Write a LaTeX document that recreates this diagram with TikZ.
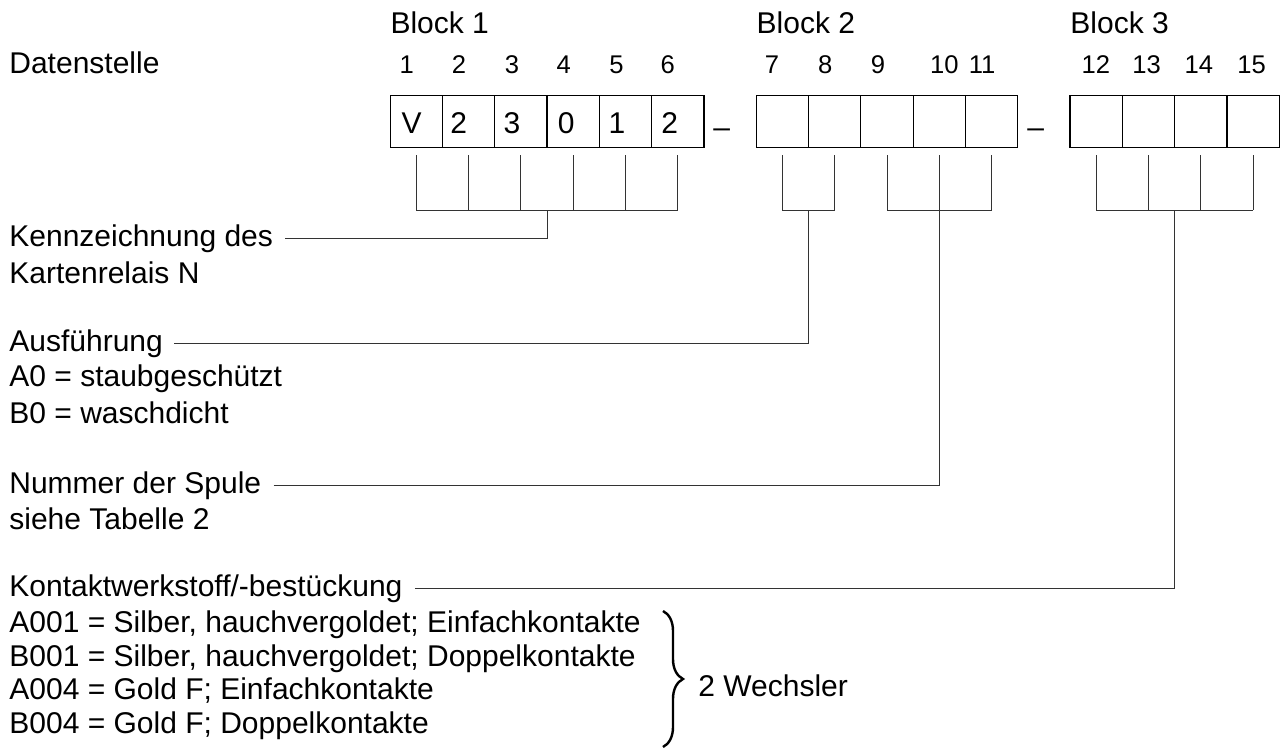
\documentclass[tikz,border=0pt]{standalone}
\usepackage{fontspec}
\setmainfont{Liberation Sans}
\usetikzlibrary{positioning,decorations.pathreplacing}

\tikzset{
  feld/.style={draw, line width=0.6pt, minimum size=26.15pt, inner sep=0pt, outer sep=0pt},
  nr/.style={font=\fontsize{12.8}{15}\selectfont, anchor=base, inner sep=0pt},
  inhalt/.style={font=\fontsize{15}{18}\selectfont, anchor=base, inner sep=0pt},
  txt/.style={font=\fontsize{15}{18.3}\selectfont, anchor=base west, inner sep=0pt, align=left},
  verb/.style={line width=0.5pt, black!80},
}

\begin{document}
\begin{tikzpicture}[x=0.5pt,y=-0.5pt]
\useasboundingbox (0,0) rectangle (1282,753);

% Datenstellen
\node[feld] (b1) at (416.3,121.7) {};
\foreach \i/\j/\d in {1/2/0pt,2/3/0pt,3/4/0pt,4/5/0pt,5/6/0pt,6/7/26.15pt,7/8/0pt,8/9/0pt,9/10/0pt,10/11/0pt,11/12/26.15pt,12/13/0pt,13/14/0pt,14/15/0pt}
  \node[feld, right=\d of b\i] (b\j) {};

\foreach \i/\dx in {1/-4.75pt,2/-4.75pt,3/-4.5pt,4/-4.75pt,5/-4.5pt,6/-5pt,7/-5.2pt,8/-4.75pt,9/-4.5pt,10/2.5pt,11/-4.75pt,12/-0.2pt,13/-1pt,14/-1pt,15/-0.75pt}
  \node[nr, xshift=\dx] (n\i) at ([yshift=11.2pt]b\i.north) {\i};

\foreach \i/\c/\dx in {1/V/-2.3pt,2/2/-5pt,3/3/-4.5pt,4/0/-3.5pt,5/1/-4.3pt,6/2/-4pt}
  \node[inhalt, xshift=\dx] (w\i) at ([yshift=-5.8pt]b\i.center) {\c};

\node[txt] (s1) at (713,138) {–};
\node[txt] (s2) at (1027,138) {–};

\node[txt] (blk1) at ([yshift=31.2pt]b1.north west) {Block 1};
\node[txt] (blk2) at ([yshift=31.2pt]b7.north west) {Block 2};
\node[txt] (blk3) at ([yshift=31.2pt]b12.north west) {Block 3};
\node[txt] (daten) at (9,74) {Datenstelle};

% Klammern unter den Feldern
\foreach \i in {1,...,15}
  \draw[verb] ([yshift=-3.6pt]b\i.south) -- ++(0,-27.5pt);
\foreach \a/\b in {1/6,7/8,9/11,12/15}
  \draw[verb] ([yshift=-31.1pt]b\a.south) -- ([yshift=-31.1pt]b\b.south);
\coordinate (k1) at ([yshift=-31.1pt]b3.south east);
\coordinate (k2) at ([yshift=-31.1pt]b7.south east);
\coordinate (k3) at ([yshift=-31.1pt]b10.south);
\coordinate (k4) at ([yshift=-31.1pt]b13.south east);

% Erklaerungen (mehrzeilige Knoten: Grundlinie = letzte Zeile)
\node[txt] (kenn) at (9,246.7) {Kennzeichnung des};
\node[txt] (kenn2) at (9,283.3) {Kartenrelais N};
\node[txt] (ausf) at (9,351.7) {Ausführung};
\node[txt] (ausf2) at (9,423.3) {A0 = staubgeschützt\\B0 = waschdicht};
\node[txt] (spule) at (9,493.3) {Nummer der Spule};
\node[txt] (spule2) at (9,530) {siehe Tabelle 2};
\node[txt] (kont) at (9,596.7) {Kontaktwerkstoff/-bestückung};
\node[txt, font=\fontsize{15}{16.77}\selectfont] (kont2) at (9,733.3)
  {A001 = Silber, hauchvergoldet; Einfachkontakte\\
   B001 = Silber, hauchvergoldet; Doppelkontakte\\
   A004 = Gold F; Einfachkontakte\\
   B004 = Gold F; Doppelkontakte};

\draw[verb] (kenn.east) ++(6pt,0) -| (k1);
\draw[verb] (ausf.east) ++(5.5pt,0) -| (k2);
\draw[verb] (spule.east) ++(6pt,0) -| (k3);
\draw[verb] (kont.east) ++(6pt,0) -| (k4);

% Klammer rechts
\coordinate (kl1) at (663,611);
\coordinate (kl2) at (663,747);
\draw[decorate, decoration={brace, amplitude=10pt}, line width=1.2pt] (kl1) -- (kl2);
\node[txt] (wechsler) at (698,696.7) {2 Wechsler};
\end{tikzpicture}
\end{document}
